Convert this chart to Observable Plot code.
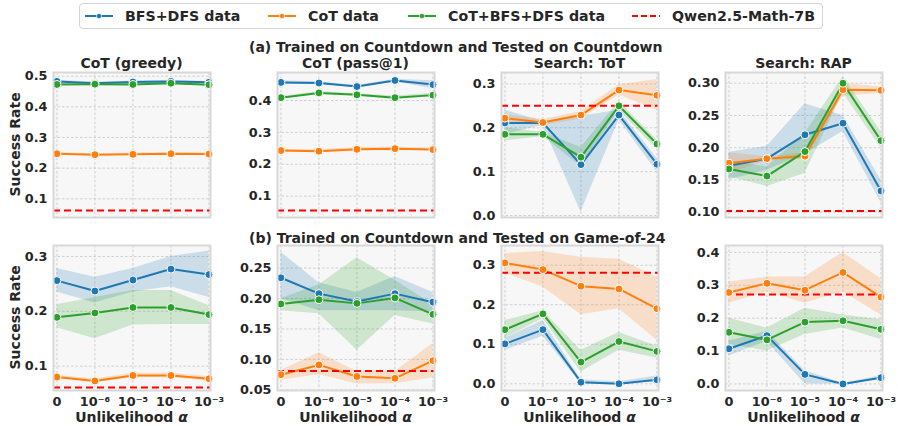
<!DOCTYPE html>
<html>
<head>
<meta charset="utf-8">
<script src="https://cdn.jsdelivr.net/npm/d3@7"></script>
<script src="https://cdn.jsdelivr.net/npm/@observablehq/plot@0.6"></script>
<style>
  body { margin: 0; background: #fff; }
  #root { position: relative; width: 898px; height: 426px; font-family: "DejaVu Sans", sans-serif; font-weight: bold; color: #262626; overflow: hidden; }
  .abs { position: absolute; white-space: nowrap; }
  .ctr { text-align: center; width: 400px; }
  #legend { position: absolute; left: 79px; top: 3px; width: 742px; height: 24px; border: 1px solid #d4d4d4; border-radius: 4px; font-size: 14.2px; white-space: nowrap; }
  .item { position: absolute; top: 0; height: 24px; display: flex; align-items: center; white-space: nowrap; }
  .item svg { margin-right: 11px; flex: none; }
</style>
</head>
<body>
<div id="root">
  <div id="legend"></div>
</div>
<script>
// ---- categories / labels ----
const alphaLabels = ["0", "10\u207B\u2076", "10\u207B\u2075", "10\u207B\u2074", "10\u207B\u00B3"];
const seriesNames = ["BFS+DFS data", "CoT data", "CoT+BFS+DFS data"];
const seriesColors = ["#1f77b4", "#ff7f0e", "#2ca02c"];
const baselineName = "Qwen2.5-Math-7B";
const columnTitles = ["CoT (greedy)", "CoT (pass@1)", "Search: ToT", "Search: RAP"];
const rowTitles = ["(a) Trained on Countdown and Tested on Countdown", "(b) Trained on Countdown and Tested on Game-of-24"];
const yLabel = "Success Rate";
const xLabel = "Unlikelihood ";

// ---- (a) Countdown -> Countdown ----  order: [BFS+DFS, CoT, CoT+BFS+DFS]
const cdGreedyMean = [[0.483,0.477,0.481,0.483,0.480],[0.247,0.244,0.245,0.247,0.246],[0.473,0.474,0.473,0.477,0.472]];
const cdGreedyLo   = [[0.479,0.475,0.478,0.479,0.477],[0.243,0.241,0.241,0.243,0.243],[0.470,0.472,0.470,0.473,0.468]];
const cdGreedyHi   = [[0.487,0.480,0.484,0.487,0.483],[0.251,0.247,0.249,0.251,0.249],[0.476,0.477,0.476,0.481,0.476]];

const cdPassMean = [[0.457,0.455,0.444,0.463,0.450],[0.243,0.241,0.247,0.249,0.246],[0.409,0.424,0.418,0.409,0.417]];
const cdPassLo   = [[0.452,0.451,0.441,0.458,0.437],[0.239,0.236,0.241,0.244,0.242],[0.406,0.420,0.415,0.405,0.411]];
const cdPassHi   = [[0.462,0.459,0.447,0.467,0.462],[0.247,0.246,0.253,0.254,0.250],[0.412,0.428,0.421,0.414,0.423]];

const cdTotMean = [[0.211,0.211,0.116,0.229,0.117],[0.222,0.212,0.229,0.286,0.274],[0.185,0.185,0.133,0.250,0.163]];
const cdTotLo   = [[0.185,0.205,0.008,0.218,0.100],[0.215,0.205,0.220,0.275,0.240],[0.170,0.180,0.112,0.240,0.150]];
const cdTotHi   = [[0.240,0.215,0.226,0.240,0.130],[0.230,0.219,0.237,0.298,0.310],[0.200,0.190,0.155,0.260,0.172]];

const cdRapMean = [[0.172,0.183,0.220,0.238,0.133],[0.176,0.183,0.187,0.290,0.289],[0.167,0.156,0.194,0.300,0.211]];
const cdRapLo   = [[0.150,0.165,0.190,0.225,0.115],[0.160,0.180,0.182,0.280,0.284],[0.155,0.140,0.160,0.285,0.200]];
const cdRapHi   = [[0.193,0.202,0.268,0.250,0.150],[0.192,0.186,0.192,0.300,0.294],[0.180,0.170,0.222,0.310,0.225]];

// ---- (b) Countdown -> Game-of-24 ----
const g24GreedyMean = [[0.256,0.237,0.257,0.277,0.267],[0.080,0.073,0.083,0.083,0.077],[0.189,0.197,0.207,0.207,0.194]];
const g24GreedyLo   = [[0.235,0.215,0.235,0.245,0.225],[0.077,0.070,0.079,0.079,0.073],[0.170,0.150,0.175,0.176,0.176]];
const g24GreedyHi   = [[0.278,0.262,0.278,0.300,0.310],[0.083,0.077,0.087,0.087,0.081],[0.212,0.225,0.238,0.238,0.210]];

const g24PassMean = [[0.234,0.208,0.195,0.208,0.194],[0.075,0.091,0.072,0.069,0.098],[0.191,0.198,0.192,0.201,0.174]];
const g24PassLo   = [[0.200,0.180,0.180,0.180,0.178],[0.066,0.075,0.060,0.060,0.070],[0.180,0.175,0.115,0.172,0.158]];
const g24PassHi   = [[0.276,0.226,0.210,0.236,0.210],[0.082,0.111,0.080,0.080,0.126],[0.200,0.222,0.267,0.230,0.190]];

const g24TotMean = [[0.101,0.137,0.004,0.000,0.010],[0.306,0.289,0.247,0.240,0.190],[0.137,0.177,0.055,0.107,0.082]];
const g24TotLo   = [[0.085,0.120,0.000,0.000,0.005],[0.280,0.245,0.175,0.190,0.110],[0.115,0.165,0.030,0.085,0.065]];
const g24TotHi   = [[0.115,0.160,0.010,0.005,0.020],[0.330,0.335,0.320,0.315,0.270],[0.160,0.185,0.085,0.130,0.095]];

const g24RapMean = [[0.107,0.147,0.029,0.000,0.019],[0.278,0.306,0.285,0.339,0.264],[0.157,0.134,0.188,0.192,0.166]];
const g24RapLo   = [[0.085,0.130,0.000,0.000,0.015],[0.245,0.280,0.245,0.280,0.210],[0.120,0.100,0.150,0.170,0.135]];
const g24RapHi   = [[0.130,0.160,0.040,0.002,0.025],[0.310,0.325,0.325,0.400,0.320],[0.200,0.170,0.230,0.210,0.195]];

// baseline (Qwen2.5-Math-7B) per panel
const baselines = [0.062, 0.055, 0.250, 0.102, 0.061, 0.081, 0.281, 0.272];

// y-axis domains and ticks per panel
const yDomains = [[0.039,0.512],[0.033,0.488],[-0.0045,0.326],[0.0918,0.3166],[0.0556,0.32],[0.049,0.287],[-0.017,0.35],[-0.02,0.421]];
const yTicks = [[0.1,0.2,0.3,0.4,0.5],[0.1,0.2,0.3,0.4],[0,0.1,0.2,0.3],[0.10,0.15,0.20,0.25,0.30],[0.1,0.2,0.3],[0.05,0.10,0.15,0.20,0.25],[0,0.1,0.2,0.3],[0,0.1,0.2,0.3,0.4]];
const yFormats = [".1f",".1f",".1f",".2f",".1f",".2f",".1f",".1f"];

const panels = [
  [cdGreedyMean, cdGreedyLo, cdGreedyHi], [cdPassMean, cdPassLo, cdPassHi],
  [cdTotMean, cdTotLo, cdTotHi], [cdRapMean, cdRapLo, cdRapHi],
  [g24GreedyMean, g24GreedyLo, g24GreedyHi], [g24PassMean, g24PassLo, g24PassHi],
  [g24TotMean, g24TotLo, g24TotHi], [g24RapMean, g24RapLo, g24RapHi]
];

const root = document.getElementById("root");

// ---- legend ----
const legend = document.getElementById("legend");
const legendLefts = [4, 187, 327, 551];
function legendItem(color, label, dashed, left) {
  const it = document.createElement("div");
  it.className = "item";
  it.style.left = left + "px";
  const sym = dashed
    ? `<svg width="30" height="10"><line x1="1" y1="5" x2="29" y2="5" stroke="${color}" stroke-width="2" stroke-dasharray="6,3"/></svg>`
    : `<svg width="30" height="10"><line x1="1" y1="5" x2="29" y2="5" stroke="${color}" stroke-width="2"/><circle cx="15" cy="5" r="2.6" fill="${color}" stroke="#fff" stroke-width="0.6"/></svg>`;
  it.innerHTML = sym + `<span>${label}</span>`;
  legend.appendChild(it);
}
seriesNames.forEach((n, i) => legendItem(seriesColors[i], n, false, legendLefts[i]));
legendItem("red", baselineName, true, legendLefts[3]);

function addText(txt, cx, cy, size, extra = "") {
  const d = document.createElement("div");
  d.className = "abs ctr";
  d.style.left = (cx - 200) + "px";
  d.style.top = (cy - size * 0.6) + "px";
  d.style.fontSize = size + "px";
  d.style.lineHeight = (size * 1.2) + "px";
  d.innerHTML = txt;
  if (extra) d.style.cssText += extra;
  root.appendChild(d);
}

const panelLefts = [53, 277, 501, 725];
const panelW = 157;
const rowTops = [72, 245];
const panelH = 145;

// titles
addText(rowTitles[0], 449, 47, 14);
addText(rowTitles[1], 449, 238, 14);
columnTitles.forEach((t, c) => addText(t, panelLefts[c] + panelW / 2, 63, 14));
panelLefts.forEach(l => addText(xLabel + "<i>\u03B1</i>", l + panelW / 2, 417, 14));
rowTops.forEach(t => addText(yLabel, 15, t + panelH / 2, 14, "transform: rotate(-90deg);"));

// ---- panels ----
panels.forEach(([mean, lo, hi], p) => {
  const row = Math.floor(p / 4), col = p % 4;
  const bottom = row === 1;
  const rows = [];
  seriesNames.forEach((name, s) => {
    alphaLabels.forEach((a, i) => rows.push({name, i, y: mean[s][i], lo: lo[s][i], hi: hi[s][i]}));
  });
  const mT = 4, mB = bottom ? 36 : 4, mL = 53, mR = 4;
  const chart = Plot.plot({
    width: mL + panelW + mR,
    height: mT + panelH + mB,
    marginLeft: mL, marginRight: mR, marginTop: mT, marginBottom: mB,
    style: {fontFamily: "DejaVu Sans", fontSize: "12.8px", fontWeight: "bold", color: "#262626", background: "transparent", overflow: "visible"},
    x: {type: "linear", domain: [-0.09, 4.04], ticks: [0,1,2,3,4], tickFormat: i => alphaLabels[i], tickSize: 0, tickPadding: 6, label: null, axis: bottom ? "bottom" : null},
    y: {domain: yDomains[p], ticks: yTicks[p], tickFormat: d3.format(yFormats[p]), tickSize: 0, tickPadding: 6, label: null},
    color: {domain: seriesNames, range: seriesColors},
    marks: [
      Plot.frame({fill: "#f7f7f7", stroke: null}),
      Plot.gridX([0,1,2,3,4], {stroke: "#c4c4c4", strokeOpacity: 1, strokeDasharray: "2.5,2", strokeWidth: 0.8}),
      Plot.gridY(yTicks[p], {stroke: "#c4c4c4", strokeOpacity: 1, strokeDasharray: "2.5,2", strokeWidth: 0.8}),
      Plot.areaY(rows, {x: "i", y1: "lo", y2: "hi", z: "name", fill: "name", fillOpacity: 0.2}),
      Plot.line(rows, {x: "i", y: "y", z: "name", stroke: "name", strokeWidth: 2}),
      Plot.ruleY([baselines[p]], {stroke: "red", strokeWidth: 2, strokeDasharray: "7,4"}),
      Plot.dot(rows, {x: "i", y: "y", fill: "name", stroke: "white", strokeWidth: 1, r: 4}),
      Plot.frame({stroke: "#d8d8d8", strokeWidth: 2})
    ]
  });
  chart.style.position = "absolute";
  chart.style.left = (panelLefts[col] - mL) + "px";
  chart.style.top = (rowTops[row] - mT) + "px";
  root.appendChild(chart);
});
</script>
</body>
</html>
